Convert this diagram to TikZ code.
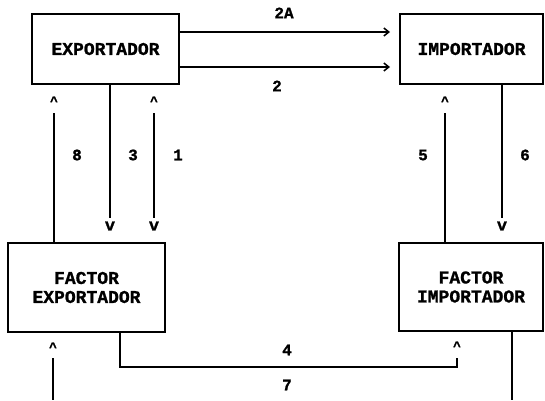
\documentclass[tikz,border=0pt]{standalone}
\usepackage{fontspec}
\setmainfont{Liberation Mono}[BoldFeatures={FakeBold=1.2}]
\usetikzlibrary{arrows.meta}
\begin{document}
\begin{tikzpicture}[x=1pt,y=-1pt,
  box/.style={draw,line width=1.3pt,inner sep=0pt,align=center,
    font=\fontsize{18}{19}\selectfont\bfseries},
  wire/.style={line width=1.4pt},
  arr/.style={wire,-{Straight Barb[length=5pt,width=8pt,line width=1.5pt]}},
  lbl/.style={font=\fontsize{16}{16}\selectfont\bfseries,inner sep=0pt},
  tipmark/.style={font=\fontsize{17}{17}\selectfont\bfseries,inner sep=0pt},
  caret/.style={font=\fontsize{13}{13}\selectfont\bfseries,inner sep=0pt}]
\useasboundingbox (0,0) rectangle (545,400);
% boxes
\node[box,minimum width=147pt,minimum height=70pt] (ex) at (105.5,49) {EXPORTADOR};
\node[box,minimum width=143pt,minimum height=70pt] (im) at (471.5,49) {IMPORTADOR};
\node[box,minimum width=157pt,minimum height=89pt] (fe) at (86.5,287.5) {FACTOR\\EXPORTADOR};
\node[box,minimum width=144pt,minimum height=88pt] (fi) at (471,287) {FACTOR\\IMPORTADOR};
% helper coordinates
\coordinate (t2a) at (390,32);
\coordinate (t2) at (390,67);
\coordinate (e8) at (54,113);
\coordinate (e3) at (110,218);
\coordinate (a1) at (154,113);
\coordinate (b1) at (154,218);
\coordinate (e5) at (445,113);
\coordinate (e6) at (502,218);
\coordinate (c4) at (120,367);
\coordinate (d4) at (457,367);
\coordinate (f4) at (457,358);
\coordinate (e7) at (512,400);
\coordinate (a7) at (53,358);
\coordinate (b7) at (53,400);
% horizontal arrows 2A and 2
\draw[arr] (ex.east |- t2a) -- (t2a);
\draw[arr] (ex.east |- t2) -- (t2);
\node[lbl] (l2a) at (284,13) {2A};
\node[lbl] (l2) at (277,86) {2};
% verticals
\draw[wire] (fe.north -| e8) -- (e8);
\draw[wire] (ex.south -| e3) -- (e3);
\draw[wire] (a1) -- (b1);
\draw[wire] (fi.north -| e5) -- (e5);
\draw[wire] (im.south -| e6) -- (e6);
\node[caret] (m8) at (54,101) {\^{}};
\node[caret] (m1) at (154,101) {\^{}};
\node[caret] (m5) at (445,101) {\^{}};
\node[tipmark] (v3) at (110,226) {v};
\node[tipmark] (v1) at (154,226) {v};
\node[tipmark] (v6) at (502,226) {v};
\node[lbl] (l8) at (77,155) {8};
\node[lbl] (l3) at (133,155) {3};
\node[lbl] (l1) at (178,155) {1};
\node[lbl] (l5) at (423,155) {5};
\node[lbl] (l6) at (525,155) {6};
% bottom
\draw[wire] (fe.south -| c4) -- (c4) -- (d4) -- (f4);
\node[caret] (m4) at (457,346) {\^{}};
\node[lbl] (l4) at (287,350) {4};
\draw[wire] (fi.south -| e7) -- (e7);
\draw[wire] (a7) -- (b7);
\node[caret] (m7) at (53,347) {\^{}};
\node[lbl] (l7) at (287,385) {7};
\end{tikzpicture}
\end{document}
